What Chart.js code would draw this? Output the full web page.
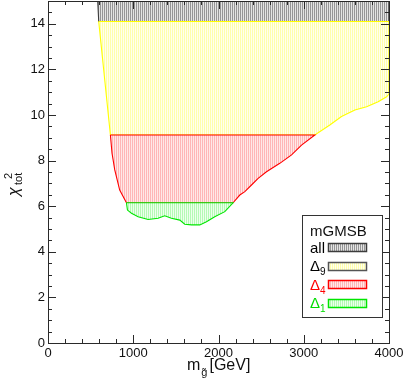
<!DOCTYPE html>
<html>
<head>
<meta charset="utf-8">
<script src="https://cdn.jsdelivr.net/npm/chart.js@4"></script>
<style>
  body { margin: 0; background: #fff; }
  canvas { display: block; }
</style>
</head>
<body>
<canvas id="grafico" width="405" height="382"></canvas>
<script>
// contornos das regioes (m_gluino em GeV, chi2_tot)
const allX = [578, 595, 4000, 4000];
const allY = [15.4, 14.1, 14.1, 15.4];

const delta9X = [595, 4000, 4000, 3972, 3873, 3737, 3600, 3443, 3306, 3130, 732, 595];
const delta9Y = [14.1, 14.1, 10.92, 10.8, 10.58, 10.36, 10.22, 9.93, 9.56, 9.12, 9.12, 14.1];

const delta4X = [732, 3130, 2974, 2857, 2719, 2563, 2465, 2387, 2309, 2250, 2171, 920, 841, 783, 751, 732];
const delta4Y = [9.12, 9.12, 8.68, 8.25, 7.88, 7.51, 7.22, 6.93, 6.64, 6.49, 6.15, 6.15, 6.71, 7.59, 8.32, 9.12];

const delta1X = [920, 2171, 2074, 1956, 1859, 1781, 1683, 1604, 1546, 1448, 1369, 1291, 1174, 1057, 979, 932, 920];
const delta1Y = [6.15, 6.15, 5.76, 5.54, 5.32, 5.18, 5.18, 5.21, 5.39, 5.47, 5.58, 5.47, 5.42, 5.54, 5.69, 5.83, 6.15];

const xTicks = [0, 1000, 2000, 3000, 4000];
const yTicks = [0, 2, 4, 6, 8, 10, 12, 14];

const legendTitle = 'mGMSB';
const legendNames = ['all', 'Δ9', 'Δ4', 'Δ1'];

const canvas = document.getElementById('grafico');
const ctx = canvas.getContext('2d');

function hachura(bg, fg) {
    let c = document.createElement('canvas');
    c.width = 2; c.height = 2;
    let g = c.getContext('2d');
    g.fillStyle = bg; g.fillRect(0, 0, 2, 2);
    g.fillStyle = fg; g.fillRect(0, 0, 1, 2);
    return ctx.createPattern(c, 'repeat');
}

function pontos(xs, ys) {
    return xs.map((x, i) => ({ x: x, y: ys[i] }));
}

const regioes = [
    { label: 'Δ1', xs: delta1X, ys: delta1Y, borda: 'rgb(0,230,0)', texto: 'rgb(0,220,0)', fill: hachura('rgb(236,255,236)', 'rgb(180,250,180)') },
    { label: 'Δ4', xs: delta4X, ys: delta4Y, borda: 'rgb(255,0,0)', texto: 'rgb(255,0,0)', fill: hachura('rgb(255,232,232)', 'rgb(255,182,182)') },
    { label: 'Δ9', xs: delta9X, ys: delta9Y, borda: 'rgb(255,255,0)', texto: '#000', fill: hachura('rgb(255,255,238)', 'rgb(255,255,172)') },
    { label: 'all', xs: allX, ys: allY, borda: 'rgb(60,60,60)', texto: '#000', fill: hachura('rgb(228,228,228)', 'rgb(150,150,150)') }
];

function texto(c, main, sub, x, y, size, cor) {
    c.textAlign = 'left';
    c.fillStyle = cor;
    c.font = size + 'px "Liberation Sans"';
    c.fillText(main, x, y);
    let w = c.measureText(main).width;
    if (sub) {
        c.font = Math.round(size * 0.68) + 'px "Liberation Sans"';
        c.fillText(sub, x + w, y + 4);
        w += c.measureText(sub).width;
    }
    return w;
}

const moldura = {
    id: 'moldura',
    afterDraw(chart) {
        const c = chart.ctx;
        const a = chart.chartArea;
        const sx = chart.scales.x;
        const sy = chart.scales.y;
        c.save();
        c.strokeStyle = '#2a2a2a';
        c.lineWidth = 1;
        c.strokeRect(a.left + 0.5, a.top + 0.5, a.right - a.left, a.bottom - a.top);
        c.beginPath();
        for (let v = 0; v <= 4000; v += 200) {
            let px = Math.round(sx.getPixelForValue(v)) + 0.5;
            let len = v % 1000 === 0 ? 8 : 4;
            c.moveTo(px, a.bottom); c.lineTo(px, a.bottom - len);
            c.moveTo(px, a.top); c.lineTo(px, a.top + len);
        }
        for (let v = 0; v <= 15; v += 0.5) {
            let py = Math.round(sy.getPixelForValue(v)) + 0.5;
            let len = v % 2 === 0 ? 8 : 4;
            c.moveTo(a.left, py); c.lineTo(a.left + len, py);
            c.moveTo(a.right, py); c.lineTo(a.right - len, py);
        }
        c.stroke();

        // titulo do eixo x
        c.textBaseline = 'alphabetic';
        c.textAlign = 'left';
        let x0 = 187;
        x0 += texto(c, 'm', '', x0, 370, 16, '#111');
        c.font = '11px "Liberation Sans"';
        c.fillText('g\u0303', x0 + 1, 376);
        x0 += c.measureText('g').width + 3;
        texto(c, '[GeV]', '', x0, 370, 16, '#111');

        // titulo do eixo y
        c.save();
        c.translate(19, 196);
        c.rotate(-Math.PI / 2);
        c.textAlign = 'left';
        c.textBaseline = 'alphabetic';
        c.font = 'italic 16px "Liberation Sans"';
        c.fillStyle = '#111';
        c.fillText('χ', 0, 0);
        c.font = '11px "Liberation Sans"';
        c.fillText('tot', 11, 3);
        c.fillText('2', 17, -7);
        c.restore();

        // legenda
        const lx = 302, ly = 215, lw = 80, lh = 102;
        c.fillStyle = '#fff';
        c.fillRect(lx, ly, lw, lh);
        c.strokeStyle = '#333';
        c.strokeRect(lx + 0.5, ly + 0.5, lw, lh);
        texto(c, legendTitle, '', 310, 235.5, 15, '#111');
        const ds = chart.data.datasets.slice().reverse();
        ds.forEach((d, i) => {
            let base = 252.5 + i * 18.5;
            let nome = legendNames[i];
            let main = nome.startsWith('Δ') ? 'Δ' : nome;
            let sub = nome.startsWith('Δ') ? nome.slice(1) : '';
            texto(c, main, sub, 310, base, 15, d.textoCor);
            let cy = Math.round(base - 5.5 - 4);
            c.fillStyle = d.backgroundColor;
            c.fillRect(328, cy, 39, 8);
            c.strokeStyle = d.swatchBorda;
            c.lineWidth = 1.5;
            c.strokeRect(328.5, cy + 0.5, 38, 8);
        });
        c.restore();
    }
};

const chartRegioes = new Chart(ctx, {
    type: 'line',
    data: {
        datasets: regioes.map(r => ({
            label: r.label,
            data: pontos(r.xs, r.ys),
            borderColor: r.borda,
            borderWidth: 1.1,
            backgroundColor: r.fill,
            fill: 'shape',
            pointRadius: 0,
            tension: 0,
            textoCor: r.texto,
            swatchBorda: r.label === 'Δ9' ? '#555' : r.borda
        }))
    },
    options: {
        responsive: false,
        animation: false,
        layout: { padding: { top: 1, right: 16, left: 0, bottom: 0 } },
        plugins: { legend: { display: false }, tooltip: { enabled: false } },
        scales: {
            x: {
                type: 'linear', min: 0, max: 4000,
                afterBuildTicks: s => { s.ticks = xTicks.map(v => ({ value: v })); },
                ticks: { padding: 3, color: '#111', font: { family: 'Liberation Sans', size: 13 }, maxRotation: 0, callback: v => String(v) },
                grid: { display: false, drawTicks: false },
                border: { display: false },
                afterFit: s => { s.height = 39; s.paddingLeft = 0; s.paddingRight = 0; }
            },
            y: {
                type: 'linear', min: 0, max: 15,
                afterBuildTicks: s => { s.ticks = yTicks.map(v => ({ value: v })); },
                ticks: { padding: 3, color: '#111', font: { family: 'Liberation Sans', size: 13 }, callback: v => String(v) },
                grid: { display: false, drawTicks: false },
                border: { display: false },
                afterFit: s => { s.width = 48; s.paddingTop = 0; s.paddingBottom = 0; }
            }
        }
    },
    plugins: [moldura]
});
</script>
</body>
</html>
